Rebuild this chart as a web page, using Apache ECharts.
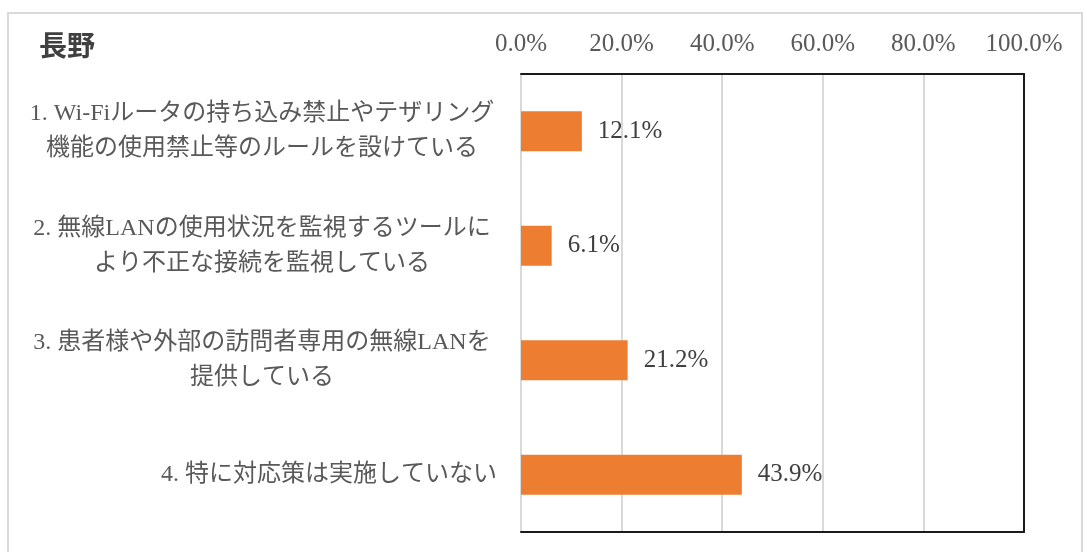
<!DOCTYPE html>
<html>
<head>
<meta charset="utf-8">
<script src="https://cdn.jsdelivr.net/npm/echarts@6/dist/echarts.min.js"></script>
<style>
  html, body { margin: 0; padding: 0; background: #fff; }
  #frame { position: absolute; left: 7px; top: 12px; width: 1076px; height: 560px; border: 2px solid #d9d9d9; box-sizing: border-box; }
  #chart { position: absolute; left: 0; top: 0; width: 1087px; height: 552px; }
</style>
</head>
<body>
<div id="frame"></div>
<div id="chart"></div>
<script>
// 回答項目（長野）
const categories = [
  '1. Wi-Fiルータの持ち込み禁止やテザリング\n機能の使用禁止等のルールを設けている',
  '2. 無線LANの使用状況を監視するツールに\nより不正な接続を監視している',
  '3. 患者様や外部の訪問者専用の無線LANを\n提供している',
  '4. 特に対応策は実施していない',
];
const values = [12.1, 6.1, 21.2, 43.9];
const axisTicks = [0, 20, 40, 60, 80, 100];

const serif = '"Liberation Serif", "Noto Sans CJK JP", serif';
const frameLine = { show: true, onZero: false, lineStyle: { color: '#1a1a1a', width: 2 } };

const chart = echarts.init(document.getElementById('chart'), null, { renderer: 'canvas' });

const option = {
  backgroundColor: 'transparent',
  animation: false,
  title: {
    text: '長野',
    left: 34,
    top: 30,
    textStyle: { fontFamily: serif, fontSize: 28, fontWeight: 'bold', color: '#404040' },
  },
  grid: {
    left: 521,
    right: 63,
    top: 74,
    bottom: 20,
  },
  xAxis: [
    {
      type: 'value',
      position: 'top',
      min: axisTicks[0],
      max: axisTicks[axisTicks.length - 1],
      interval: 20,
      axisLine: frameLine,
      axisTick: { show: false },
      axisLabel: {
        margin: 17,
        fontFamily: serif,
        fontSize: 25,
        color: '#595959',
        formatter: (v) => v.toFixed(1) + '%',
      },
      splitLine: { showMaxLine: false, lineStyle: { color: '#d9d9d9', width: 2 } },
    },
    {
      // 下枠線
      type: 'value',
      position: 'bottom',
      min: axisTicks[0],
      max: axisTicks[axisTicks.length - 1],
      axisLine: frameLine,
      axisTick: { show: false },
      axisLabel: { show: false },
      splitLine: { show: false },
    },
  ],
  yAxis: [
    {
      type: 'category',
      inverse: true,
      data: categories,
      axisLine: { show: false },
      axisTick: { show: false },
      axisLabel: {
        margin: 24,
        fontFamily: serif,
        fontSize: 24,
        lineHeight: 35,
        color: '#595959',
        align: 'right',
        formatter: (v) => {
          if (v.indexOf('\n') < 0) return v;
          return v.split('\n').map((s) => '{c|' + s + '}').join('\n');
        },
        rich: {
          c: { width: 470, align: 'center', fontFamily: serif, fontSize: 24, lineHeight: 35, color: '#595959' },
        },
      },
    },
    {
      // 右枠線
      type: 'category',
      position: 'right',
      inverse: true,
      data: categories,
      axisLine: frameLine,
      axisTick: { show: false },
      axisLabel: { show: false },
      splitLine: { show: false },
    },
  ],
  series: [
    {
      type: 'bar',
      data: values,
      barWidth: 40,
      itemStyle: { color: '#ED7D31' },
      label: {
        show: true,
        position: 'right',
        distance: 16,
        fontFamily: serif,
        fontSize: 25,
        color: '#404040',
        formatter: (p) => p.value.toFixed(1) + '%',
      },
    },
  ],
};

chart.setOption(option);
window.addEventListener('resize', () => chart.resize());
</script>
</body>
</html>
